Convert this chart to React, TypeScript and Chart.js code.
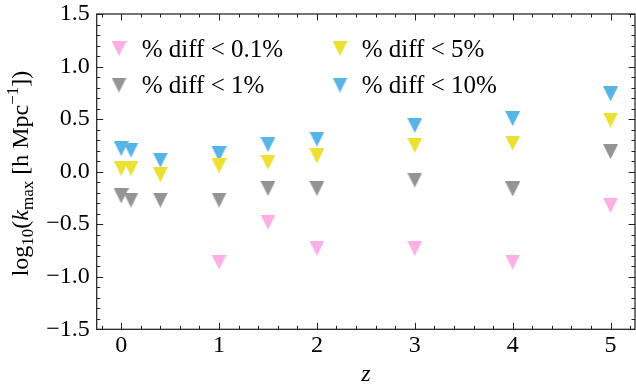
import React, { useEffect, useRef } from "react";
import { Chart, registerables } from "chart.js";

Chart.register(...registerables);

// ---- data ----
const zAll = [0, 0.1, 0.4, 1, 1.5, 2, 3, 4, 5];
const zPink = [1, 1.5, 2, 3, 4, 5];
const diff01 = [-0.86, -0.48, -0.73, -0.73, -0.86, -0.32];
const diff1 = [-0.23, -0.27, -0.27, -0.27, -0.16, -0.16, -0.08, -0.165, 0.19];
const diff5 = [0.03, 0.03, -0.03, 0.055, 0.09, 0.15, 0.25, 0.27, 0.49];
const diff10 = [0.22, 0.205, 0.11, 0.17, 0.26, 0.31, 0.44, 0.505, 0.74];
const seriesLabels = ["% diff < 0.1%", "% diff < 1%", "% diff < 5%", "% diff < 10%"];
const seriesColors = ["#fbafe4", "#949494", "#ece133", "#56b4e9"];
const xTickValues = [0, 1, 2, 3, 4, 5];
const yTickValues = [-1.5, -1, -0.5, 0, 0.5, 1, 1.5];

const FONT = "'Liberation Serif', 'Times New Roman', serif";
const AXIS_COLOR = "#222";

function triangle(color: string, s = 15): HTMLCanvasElement {
  const c = document.createElement("canvas");
  c.width = s;
  c.height = s;
  const g = c.getContext("2d")!;
  g.fillStyle = color;
  g.beginPath();
  g.moveTo(0, 0);
  g.lineTo(s, 0);
  g.lineTo(s / 2, s);
  g.closePath();
  g.fill();
  return c;
}

function fmtY(v: number): string {
  const s = Math.abs(v).toFixed(1);
  return v < 0 ? "\u2212" + s : s;
}

export default function App() {
  const ref = useRef<HTMLCanvasElement | null>(null);

  useEffect(() => {
    if (!ref.current) return;
    const markers = seriesColors.map((c) => triangle(c));
    const xs = [zPink, zAll, zAll, zAll];
    const ys = [diff01, diff1, diff5, diff10];

    const decor = {
      id: "decor",
      afterDraw(chart: any) {
        const { ctx, chartArea: a } = chart;
        const x = chart.scales.x;
        const y = chart.scales.y;
        ctx.save();
        // frame
        ctx.strokeStyle = AXIS_COLOR;
        ctx.lineWidth = 1.25;
        ctx.strokeRect(a.left, a.top, a.right - a.left, a.bottom - a.top);
        // ticks
        const tick = (px: number, len: number, horiz: boolean) => {
          ctx.beginPath();
          if (horiz) {
            ctx.moveTo(px, a.bottom);
            ctx.lineTo(px, a.bottom - len);
            ctx.moveTo(px, a.top);
            ctx.lineTo(px, a.top + len);
          } else {
            ctx.moveTo(a.left, px);
            ctx.lineTo(a.left + len, px);
            ctx.moveTo(a.right, px);
            ctx.lineTo(a.right - len, px);
          }
          ctx.stroke();
        };
        ctx.lineWidth = 1;
        for (let k = -1; k <= 26; k++) {
          const v = k * 0.2;
          if (v < x.min || v > x.max) continue;
          const isMajor = Math.abs(v - Math.round(v)) < 1e-6;
          tick(Math.round(x.getPixelForValue(v)) + 0.5, isMajor ? 6.5 : 3.5, true);
        }
        for (let k = -15; k <= 15; k++) {
          const v = k * 0.1;
          const isMajor = k % 5 === 0;
          tick(Math.round(y.getPixelForValue(v)) + 0.5, isMajor ? 6.5 : 3.5, false);
        }

        // legend
        const colX = [119, 340];
        const txtX = [141.7, 361.7];
        const rowY = [48.5, 85];
        const baseY = [56.7, 93.3];
        ctx.font = `25px ${FONT}`;
        ctx.fillStyle = "#000";
        ctx.textAlign = "left";
        ctx.textBaseline = "alphabetic";
        for (let i = 0; i < 4; i++) {
          const col = i < 2 ? 0 : 1;
          const row = i % 2;
          ctx.drawImage(markers[i], colX[col] - 7.5, rowY[row] - 7.5);
          ctx.fillText(seriesLabels[i], txtX[col], baseY[row]);
        }

        // x title
        ctx.font = `italic 24px ${FONT}`;
        ctx.textAlign = "center";
        ctx.fillText("z", (a.left + a.right) / 2, 381);

        // y title with sub/superscripts
        const runs = [
          { t: "log", f: `24px ${FONT}`, dy: 0 },
          { t: "10", f: `17px ${FONT}`, dy: 5 },
          { t: "(", f: `24px ${FONT}`, dy: 0 },
          { t: "k", f: `italic 24px ${FONT}`, dy: 0 },
          { t: "max", f: `17px ${FONT}`, dy: 5 },
          { t: " [h Mpc", f: `24px ${FONT}`, dy: 0 },
          { t: "\u22121", f: `17px ${FONT}`, dy: -10 },
          { t: "])", f: `24px ${FONT}`, dy: 0 },
        ];
        let total = 0;
        const widths = runs.map((r) => {
          ctx.font = r.f;
          const w = ctx.measureText(r.t).width;
          total += w;
          return w;
        });
        ctx.translate(28, 173.5);
        ctx.rotate(-Math.PI / 2);
        ctx.textAlign = "left";
        let cx = -total / 2;
        runs.forEach((r, i) => {
          ctx.font = r.f;
          ctx.fillText(r.t, cx, r.dy);
          cx += widths[i];
        });
        ctx.restore();
      },
    };

    const chart = new Chart(ref.current, {
      type: "scatter",
      data: {
        datasets: seriesLabels.map((label, i) => ({
          label,
          data: xs[i].map((xv, j) => ({ x: xv, y: ys[i][j] })),
          pointStyle: markers[i] as any,
          pointRadius: 7.5,
          backgroundColor: seriesColors[i],
          borderColor: seriesColors[i],
          showLine: false,
        })),
      },
      options: {
        animation: false,
        responsive: false,
        events: [],
        layout: { autoPadding: false, padding: { top: 14, right: 1, left: 0, bottom: 0 } },
        plugins: {
          legend: { display: false },
          tooltip: { enabled: false },
        },
        scales: {
          x: {
            type: "linear",
            min: -0.25,
            max: 5.25,
            grid: { display: false, drawTicks: false },
            border: { display: false },
            ticks: {
              font: { family: FONT, size: 24 },
              color: "#000",
              padding: 2,
              maxRotation: 0,
              autoSkip: false,
              callback: (v: any) => String(v),
            },
            afterBuildTicks: (s: any) => {
              s.ticks = xTickValues.map((v) => ({ value: v }));
            },
            afterFit: (s: any) => {
              s.height = 56.7;
              s.paddingLeft = 0;
              s.paddingRight = 0;
              s.paddingTop = 0;
              s.paddingBottom = 0;
            },
          },
          y: {
            type: "linear",
            min: -1.5,
            max: 1.5,
            grid: { display: false, drawTicks: false },
            border: { display: false },
            ticks: {
              font: { family: FONT, size: 24 },
              color: "#000",
              padding: 7,
              autoSkip: false,
              callback: (v: any) => fmtY(Number(v)),
            },
            afterBuildTicks: (s: any) => {
              s.ticks = yTickValues.map((v) => ({ value: v }));
            },
            afterFit: (s: any) => {
              s.width = 96.7;
              s.paddingLeft = 0;
              s.paddingRight = 0;
              s.paddingTop = 0;
              s.paddingBottom = 0;
            },
          },
        },
      },
      plugins: [decor],
    });
    return () => chart.destroy();
  }, []);

  return (
    <div style={{ position: "fixed", left: 0, top: 0, width: 636, height: 386, background: "#fff" }}>
      <canvas ref={ref} width={636} height={386} style={{ display: "block", width: 636, height: 386 }} />
    </div>
  );
}
